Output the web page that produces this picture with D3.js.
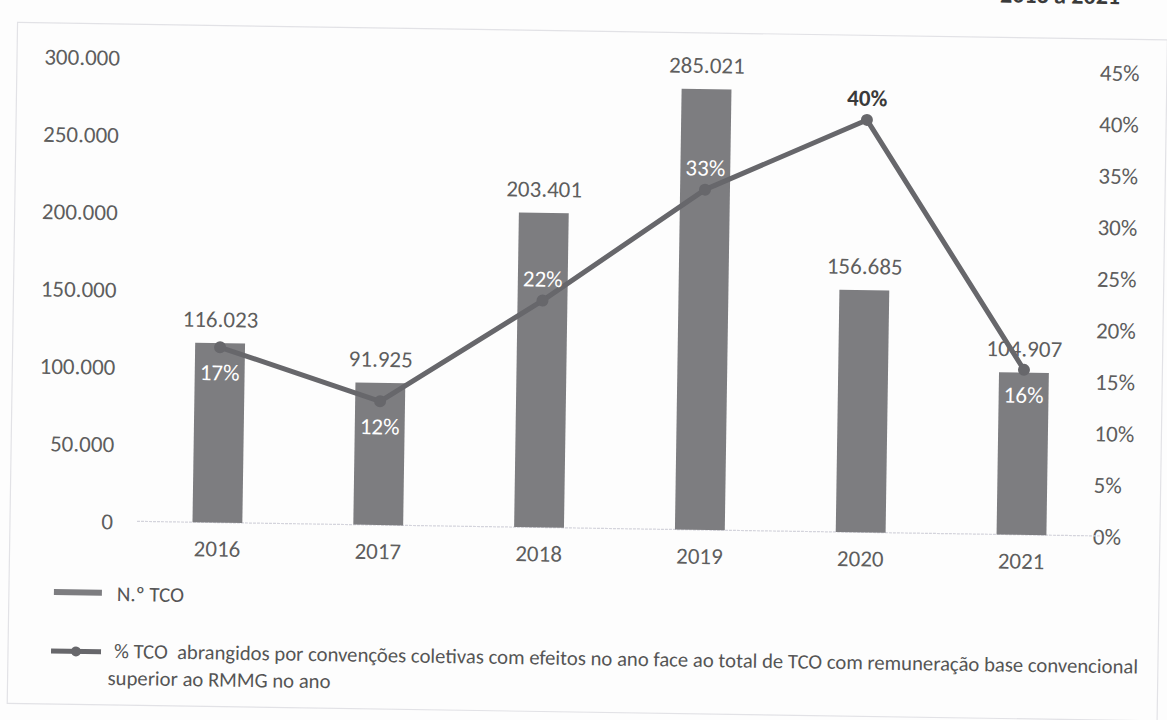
<!DOCTYPE html>
<html>
<head>
<meta charset="utf-8">
<script src="https://cdn.jsdelivr.net/npm/d3@7"></script>
<style>
  html, body { margin: 0; padding: 0; background: #fdfdfd; }
  svg { display: block; }
  text { font-family: Carlito, Lato, "Open Sans", sans-serif; }
</style>
</head>
<body>
<svg id="chart" width="1167" height="720"></svg>
<script>
// Number of TCO per year (bars, left axis)
const years = ["2016", "2017", "2018", "2019", "2020", "2021"];
const tcoCount = [116023, 91925, 203401, 285021, 156685, 104907];
// Share of TCO covered by collective agreements (line, right axis)
const tcoShare = [0.17, 0.12, 0.22, 0.33, 0.40, 0.16];
// Where each percentage label sits relative to its point
const shareLabelSide = ["below", "below", "above", "above", "above", "below"];

const leftTicks = [0, 50000, 100000, 150000, 200000, 250000, 300000];
const rightTicks = [0, 0.05, 0.10, 0.15, 0.20, 0.25, 0.30, 0.35, 0.40, 0.45];

const legendBarLabel = "N.º TCO";
const legendLineLabel1 = "% TCO  abrangidos por convenções coletivas com efeitos no ano face ao total de TCO com remuneração base convencional";
const legendLineLabel2 = "superior ao RMMG no ano";
const titleTail = "– 2016 a 2021";

const pt = d3.formatLocale({ decimal: ",", thousands: ".", grouping: [3], currency: ["", ""] });
const fmtCount = pt.format(",");
const fmtPct = d3.format(".0%");

const svg = d3.select("#chart");
// the whole sheet sits slightly tilted
const page = svg.append("g").attr("transform", "rotate(0.87, 115, 521)");

const barColor = "#7d7d80";
const lineColor = "#67676b";
const textColor = "#5e5e5e";
const fs = 23;

// frame
page.append("rect")
  .attr("x", 10).attr("y", 24).attr("width", 1150).attr("height", 681)
  .attr("fill", "none").attr("stroke", "#e2e2e6").attr("stroke-width", 1.2);

// title, only its lower edge shows at the top of the sheet
page.append("text")
  .attr("x", 1112).attr("y", -11)
  .attr("text-anchor", "end")
  .attr("font-size", 24).attr("font-weight", 700)
  .attr("fill", "#3a3a3a")
  .text(titleTail);

const x = d3.scaleBand().domain(years).range([137, 1102]).paddingInner(0.69).paddingOuter(0.345);
const yL = d3.scaleLinear().domain([0, 300000]).range([521, 57]);
const yR = d3.scaleLinear().domain([0, 0.45]).range([521, 57]);

// left axis
const leftAxis = d3.axisLeft(yL).tickValues(leftTicks).tickFormat(fmtCount).tickSize(0).tickPadding(0);
const gL = page.append("g").attr("transform", "translate(113,0)").call(leftAxis);
gL.select(".domain").remove();
gL.selectAll("text").attr("font-size", fs).attr("fill", textColor).attr("font-family", null).attr("dy", "0.35em");

// right axis
const rightAxis = d3.axisRight(yR).tickValues(rightTicks).tickFormat(fmtPct).tickSize(0).tickPadding(0);
const gR = page.append("g").attr("transform", "translate(1093,0)").call(rightAxis);
gR.select(".domain").remove();
gR.selectAll("text").attr("font-size", fs).attr("fill", textColor).attr("font-family", null).attr("dy", "0.35em");

// baseline
page.append("line")
  .attr("x1", 137).attr("x2", 1102)
  .attr("y1", yL(0)).attr("y2", yL(0))
  .attr("stroke", "#d4d4dc").attr("stroke-width", 1.2).attr("stroke-dasharray", "3,1");

// bottom axis
const bottomAxis = d3.axisBottom(x).tickSize(0).tickPadding(0);
const gB = page.append("g").attr("transform", `translate(0,${yL(0)})`).call(bottomAxis);
gB.select(".domain").remove();
gB.selectAll("text").attr("font-size", fs).attr("fill", textColor).attr("font-family", null).attr("dy", null).attr("y", 34);

// bars
page.append("g").selectAll("rect")
  .data(years)
  .join("rect")
  .attr("x", d => x(d))
  .attr("width", x.bandwidth())
  .attr("y", (d, i) => yL(tcoCount[i]))
  .attr("height", (d, i) => yL(0) - yL(tcoCount[i]))
  .attr("fill", barColor);

// bar value labels
page.append("g").selectAll("text")
  .data(years)
  .join("text")
  .attr("x", d => x(d) + x.bandwidth() / 2)
  .attr("y", (d, i) => yL(tcoCount[i]) - 16)
  .attr("text-anchor", "middle")
  .attr("font-size", fs)
  .attr("fill", textColor)
  .text((d, i) => fmtCount(tcoCount[i]));

// line
const cx = d => x(d) + x.bandwidth() / 2;
const line = d3.line().x((d, i) => cx(years[i])).y(d => yR(d));
page.append("path")
  .datum(tcoShare)
  .attr("d", line)
  .attr("fill", "none")
  .attr("stroke", lineColor)
  .attr("stroke-width", 5)
  .attr("stroke-linejoin", "round");

page.append("g").selectAll("circle")
  .data(tcoShare)
  .join("circle")
  .attr("cx", (d, i) => cx(years[i]))
  .attr("cy", d => yR(d))
  .attr("r", 6)
  .attr("fill", lineColor);

// percentage labels
page.append("g").selectAll("text")
  .data(tcoShare)
  .join("text")
  .attr("x", (d, i) => cx(years[i]))
  .attr("y", (d, i) => shareLabelSide[i] === "below" ? yR(d) + 33 : yR(d) - 14)
  .attr("text-anchor", "middle")
  .attr("font-size", fs)
  .attr("font-weight", (d, i) => years[i] === "2020" ? 700 : 400)
  .attr("fill", (d, i) => years[i] === "2020" ? "#3a3a3a" : "#ffffff")
  .text(d => fmtPct(d));

// legend
const lg = page.append("g");
lg.append("rect")
  .attr("x", 55).attr("y", 590).attr("width", 48).attr("height", 6)
  .attr("fill", barColor);
lg.append("text")
  .attr("x", 118).attr("y", 601)
  .attr("font-size", 21).attr("fill", "#555")
  .text(legendBarLabel);

lg.append("line")
  .attr("x1", 53).attr("x2", 103).attr("y1", 652).attr("y2", 652)
  .attr("stroke", lineColor).attr("stroke-width", 5);
lg.append("circle")
  .attr("cx", 78).attr("cy", 652).attr("r", 5)
  .attr("fill", lineColor);
lg.append("text")
  .attr("x", 116).attr("y", 658)
  .attr("font-size", 20.7).attr("fill", "#555")
  .attr("xml:space", "preserve")
  .style("white-space", "pre")
  .text(legendLineLabel1);
lg.append("text")
  .attr("x", 110).attr("y", 685)
  .attr("font-size", 20.7).attr("fill", "#555")
  .text(legendLineLabel2);
</script>
</body>
</html>
